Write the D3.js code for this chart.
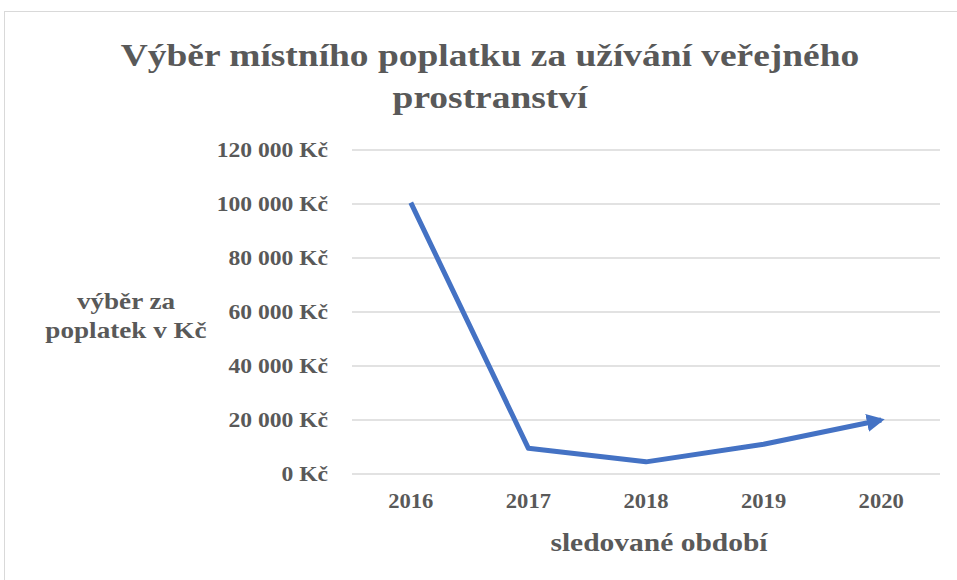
<!DOCTYPE html>
<html>
<head>
<meta charset="utf-8">
<script src="https://cdn.jsdelivr.net/npm/d3@7"></script>
<style>
  body { margin: 0; background: #fff; }
  text { font-family: "Liberation Serif", "Times New Roman", serif; font-weight: bold; fill: #595959; }
</style>
</head>
<body>
<div id="chart-container"></div>
<script>
// data
var years = ["2016", "2017", "2018", "2019", "2020"];
var vybery = [100500, 9500, 4500, 11000, 20000];
var yTicks = [0, 20000, 40000, 60000, 80000, 100000, 120000];
var titleLines = ["Výběr místního poplatku za užívání veřejného", "prostranství"];
var yTitleLines = ["výběr za", "poplatek v Kč"];
var xTitle = "sledované období";

var width = 957, height = 580;
var margin = {top: 150, right: 15, bottom: 106, left: 352};
var stretch = 1.18; // the original text is a bit wider than plain Times

var svg = d3.select("#chart-container")
  .append("svg")
    .attr("width", width)
    .attr("height", height);

// place text with a horizontal stretch
function place(sel, x, y, sx) {
  sel.attr("transform", function (d, i) {
    return "translate(" + x(d, i) + "," + y(d, i) + ") scale(" + sx + ",1)";
  });
  return sel;
}

// chart frame
svg.append("rect")
  .attr("x", 4.5).attr("y", 11.5)
  .attr("width", 1000).attr("height", 1000)
  .attr("fill", "none")
  .attr("stroke", "#d9d9d9")
  .attr("stroke-width", 1);

var xScale = d3.scaleBand()
  .domain(years)
  .range([margin.left, 940]);

var yScale = d3.scaleLinear()
  .domain([0, 120000])
  .range([474, margin.top]);

// gridlines
svg.append("g")
  .selectAll("line")
  .data(yTicks)
  .enter()
  .append("line")
    .attr("x1", xScale.range()[0])
    .attr("x2", xScale.range()[1])
    .attr("y1", function (d) { return yScale(d); })
    .attr("y2", function (d) { return yScale(d); })
    .attr("stroke", "#d9d9d9")
    .attr("stroke-width", 1.5);

// y labels
var fmt = function (d) { return d3.format(",")(d).replace(/,/g, " ") + " Kč"; };
place(svg.append("g")
  .selectAll("text")
  .data(yTicks)
  .enter()
  .append("text")
    .attr("dy", "0.35em")
    .attr("text-anchor", "end")
    .style("font-size", "20px")
    .text(fmt),
  function () { return 328; }, function (d) { return yScale(d); }, stretch);

// x labels
place(svg.append("g")
  .selectAll("text")
  .data(years)
  .enter()
  .append("text")
    .attr("text-anchor", "middle")
    .style("font-size", "20px")
    .text(function (d) { return d; }),
  function (d) { return xScale(d) + xScale.bandwidth() / 2; }, function () { return 508; }, 1.13);

// title
place(svg.append("g")
  .selectAll("text")
  .data(titleLines)
  .enter()
  .append("text")
    .attr("text-anchor", "middle")
    .style("font-size", "32px")
    .text(function (d) { return d; }),
  function () { return 490; }, function (d, i) { return 66 + i * 42; }, 1.17);

// axis titles
place(svg.append("g")
  .selectAll("text")
  .data(yTitleLines)
  .enter()
  .append("text")
    .attr("text-anchor", "middle")
    .style("font-size", "23px")
    .text(function (d) { return d; }),
  function () { return 126; }, function (d, i) { return 309 + i * 29; }, stretch);

place(svg.append("g")
  .selectAll("text")
  .data([xTitle])
  .enter()
  .append("text")
    .attr("text-anchor", "middle")
    .style("font-size", "25px")
    .text(function (d) { return d; }),
  function () { return 659; }, function () { return 551; }, stretch);

// arrow head at line end
svg.append("defs").append("marker")
  .attr("id", "arrow")
  .attr("viewBox", "0 0 10 10")
  .attr("refX", 8).attr("refY", 5)
  .attr("markerWidth", 3.6).attr("markerHeight", 3.6)
  .attr("orient", "auto")
  .append("path")
    .attr("d", "M0,0 L10,5 L0,10 Z")
    .attr("fill", "#4472c4");

var line = d3.line()
  .x(function (d, i) { return xScale(years[i]) + xScale.bandwidth() / 2; })
  .y(function (d) { return yScale(d); });

svg.append("path")
  .datum(vybery)
  .attr("d", line)
  .attr("fill", "none")
  .attr("stroke", "#4472c4")
  .attr("stroke-width", 5)
  .attr("stroke-linejoin", "round")
  .attr("marker-end", "url(#arrow)");
</script>
</body>
</html>
